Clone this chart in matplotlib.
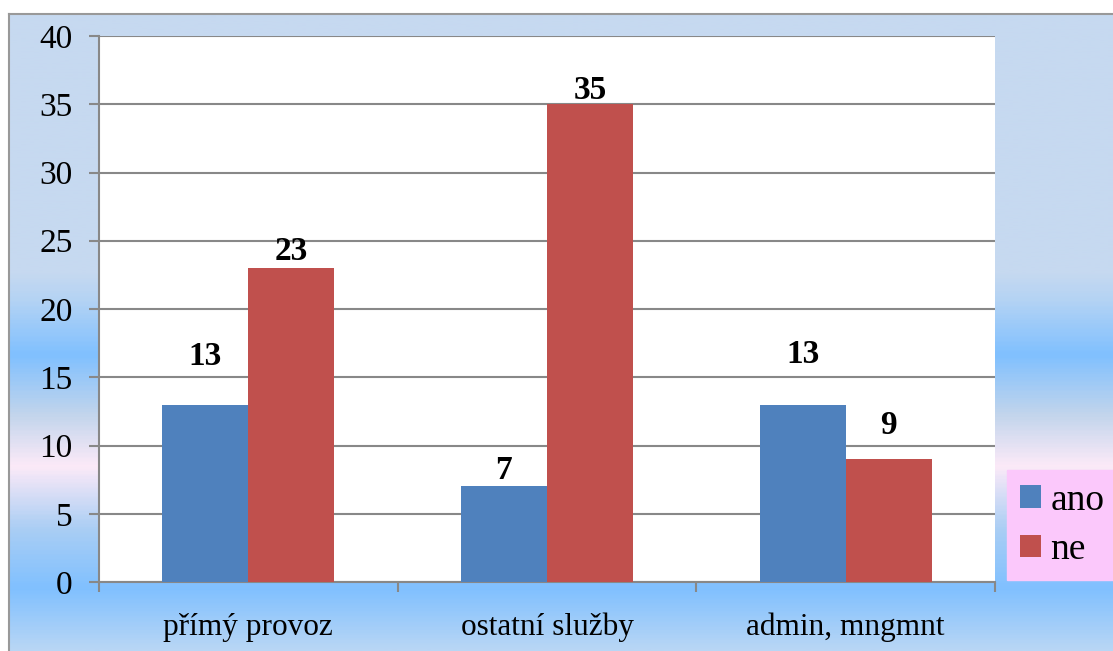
import numpy as np
import matplotlib
matplotlib.use("Agg")
import matplotlib.pyplot as plt
from matplotlib.colors import LinearSegmentedColormap

plt.rcParams['font.family'] = ['Liberation Serif', 'DejaVu Serif']

categories = ["přímý provoz", "ostatní služby", "admin, mngmnt"]
ano = [13, 7, 13]
ne = [23, 35, 9]
series_names = ["ano", "ne"]
yticks = [0, 5, 10, 15, 20, 25, 30, 35, 40]

W, H = 1113, 651
fig = plt.figure(figsize=(W / 100, H / 100), dpi=100)
fig.patch.set_facecolor("white")

# background gradient of the chart frame
stops = [(14, "#C6D9F0"), (272, "#C6D9F0"), (300, "#B4D3F4"), (355, "#80C0FF"),
         (415, "#C2D5EC"), (467, "#FCEAF8"), (530, "#AACEF4"), (590, "#80C0FF"),
         (651, "#B8D6F5")]
pos = [(p - 14) / (651 - 14) for p, c in stops]
cmap = LinearSegmentedColormap.from_list("bg", list(zip(pos, [c for p, c in stops])))
bg = fig.add_axes([9 / W, 0, 1 - 9 / W, 1 - 14 / H])
bg.imshow(np.linspace(0, 1, 400).reshape(-1, 1), aspect="auto", cmap=cmap,
          extent=[0, 1, 0, 1], origin="upper")
bg.set_xlim(0, 1)
bg.set_ylim(0, 1)
bg.axis("off")
fig.add_artist(plt.Line2D([9 / W, 9 / W], [0, 1 - 14 / H], color="#999999", lw=1.5))
fig.add_artist(plt.Line2D([9 / W, 1], [1 - 14 / H, 1 - 14 / H], color="#999999", lw=1.5))

ax = fig.add_axes([99 / W, 1 - 582 / H, (995 - 99) / W, (582 - 36) / H])
ax.set_facecolor("white")
x = np.arange(len(categories))
w = 0.288
b1 = ax.bar(x - w / 2, ano, w, color="#4F81BD", label=series_names[0], zorder=3)
b2 = ax.bar(x + w / 2, ne, w, color="#C0504D", label=series_names[1], zorder=3)

# data labels (placed by hand in the original, offsets in pixels)
offs_ano = [48, 16, 50]
offs_ne = [17, 14, 34]
for bars, offs in [(b1, offs_ano), (b2, offs_ne)]:
    for r, o in zip(bars, offs):
        ax.annotate(str(int(r.get_height())), (r.get_x() + r.get_width() / 2, r.get_height()),
                    xytext=(0, o * 0.72), textcoords="offset points", ha="center", va="center",
                    fontsize=24, fontweight="bold", zorder=4)

ax.set_xlim(-0.5, len(categories) - 0.5)
ax.set_ylim(0, 40)
ax.set_yticks(yticks)
ax.yaxis.grid(True, color="#888888", lw=1.5, zorder=0)
ax.set_xticks(x)
ax.set_xticklabels(categories, fontsize=22.5)
ax.tick_params(axis="x", length=0, pad=22)
ax.set_xticks(np.arange(len(categories) + 1) - 0.5, minor=True)
ax.tick_params(axis="x", which="minor", length=7, color="#888888", width=1.5)
ax.tick_params(axis="y", labelsize=24, length=7, color="#888888", width=1.5, pad=12)
for s in ["top", "right"]:
    ax.spines[s].set_visible(False)
for s in ["left", "bottom"]:
    ax.spines[s].set_color("#888888")
    ax.spines[s].set_linewidth(1.5)

leg = fig.legend(handles=[b1, b2], loc="upper left", bbox_to_anchor=(1007 / W, 1 - 470 / H),
                 frameon=True, fontsize=27, handlelength=0.55, handleheight=0.55,
                 handletextpad=0.25, labelspacing=0.4, borderpad=0.35, borderaxespad=0,
                 fancybox=False)
leg.get_frame().set_facecolor("#FBC8FB")
leg.get_frame().set_edgecolor("#FBC8FB")
leg.get_frame().set_alpha(1)

fig.savefig("out.png", dpi=100)
